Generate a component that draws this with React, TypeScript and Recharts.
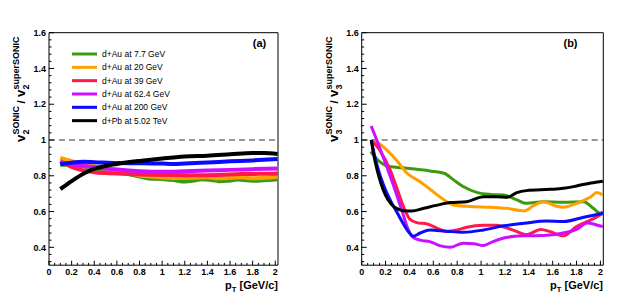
import React from "react";
import { LineChart, Line, XAxis, YAxis, ReferenceLine, ReferenceArea } from "recharts";

type P = { x: number; y: number };
const pts = (a: number[][]): P[] => a.map(([x, y]) => ({ x, y }));

// ---------- series names / colours ----------
const SERIES_NAMES = [
  "d+Au at 7.7 GeV",
  "d+Au at 20 GeV",
  "d+Au at 39 GeV",
  "d+Au at 62.4 GeV",
  "d+Au at 200 GeV",
  "d+Pb at 5.02 TeV",
];
const SERIES_COLORS = ["#3b9a10", "#ffa000", "#ff1a4a", "#cc10ff", "#0a0aff", "#000000"];

// ---------- panel (a): v2 ratio ----------
const v2_7p7 = pts([[0.1,0.862],[0.2,0.862],[0.3,0.852],[0.4,0.842],[0.5,0.832],[0.6,0.822],[0.7,0.81],[0.8,0.796],[0.9,0.784],[1.0,0.782],[1.1,0.776],[1.2,0.768],[1.27,0.772],[1.35,0.781],[1.42,0.778],[1.5,0.77],[1.58,0.772],[1.67,0.779],[1.75,0.775],[1.82,0.772],[1.9,0.775],[2.02,0.78]]);
const v2_20 = pts([[0.1,0.9],[0.2,0.882],[0.3,0.866],[0.4,0.852],[0.5,0.84],[0.6,0.828],[0.7,0.814],[0.8,0.802],[0.9,0.796],[1.0,0.791],[1.1,0.788],[1.2,0.787],[1.3,0.79],[1.4,0.792],[1.5,0.786],[1.6,0.789],[1.7,0.792],[1.8,0.786],[1.9,0.789],[2.02,0.795]]);
const v2_39 = pts([[0.1,0.882],[0.2,0.85],[0.3,0.83],[0.4,0.82],[0.5,0.815],[0.7,0.81],[0.9,0.806],[1.1,0.804],[1.3,0.803],[1.5,0.805],[1.7,0.81],[1.9,0.811],[2.02,0.813]]);
const v2_62 = pts([[0.1,0.875],[0.2,0.865],[0.4,0.848],[0.6,0.835],[0.8,0.826],[1.0,0.822],[1.2,0.825],[1.4,0.829],[1.6,0.833],[1.8,0.837],[2.02,0.841]]);
const v2_200 = pts([[0.1,0.864],[0.2,0.873],[0.3,0.878],[0.4,0.876],[0.6,0.871],[0.8,0.87],[1.0,0.868],[1.1,0.866],[1.2,0.869],[1.4,0.874],[1.6,0.881],[1.8,0.886],[2.02,0.894]]);
const v2_5020 = pts([[0.1,0.726],[0.15,0.748],[0.2,0.77],[0.3,0.81],[0.4,0.838],[0.5,0.855],[0.6,0.866],[0.8,0.883],[1.0,0.897],[1.2,0.908],[1.4,0.912],[1.6,0.92],[1.8,0.928],[1.9,0.928],[2.02,0.922]]);

// ---------- panel (b): v3 ratio ----------
const v3_7p7 = pts([[0.075,0.935],[0.15,0.879],[0.24,0.85],[0.35,0.845],[0.46,0.836],[0.57,0.827],[0.69,0.814],[0.77,0.777],[0.85,0.74],[0.97,0.706],[1.08,0.696],[1.19,0.693],[1.3,0.665],[1.38,0.646],[1.52,0.655],[1.69,0.652],[1.86,0.655],[1.94,0.618],[2.0,0.59],[2.02,0.6]]);
const v3_20 = pts([[0.08,0.99],[0.13,0.985],[0.21,0.944],[0.29,0.888],[0.38,0.814],[0.49,0.767],[0.57,0.726],[0.69,0.665],[0.77,0.637],[0.91,0.628],[1.08,0.624],[1.22,0.618],[1.36,0.603],[1.44,0.633],[1.52,0.655],[1.64,0.628],[1.69,0.624],[1.8,0.646],[1.92,0.683],[1.97,0.706],[2.02,0.693]]);
const v3_39 = pts([[0.08,1.0],[0.15,0.944],[0.24,0.83],[0.29,0.74],[0.35,0.628],[0.4,0.56],[0.46,0.538],[0.55,0.53],[0.63,0.507],[0.71,0.488],[0.8,0.497],[0.88,0.512],[1.02,0.523],[1.13,0.523],[1.22,0.507],[1.3,0.488],[1.38,0.47],[1.5,0.5],[1.58,0.488],[1.69,0.464],[1.8,0.516],[1.92,0.553],[2.02,0.59]]);
const v3_62 = pts([[0.08,1.078],[0.126,1.0],[0.21,0.85],[0.29,0.7],[0.34,0.6],[0.38,0.516],[0.43,0.456],[0.49,0.44],[0.57,0.432],[0.66,0.408],[0.74,0.4],[0.85,0.423],[0.94,0.42],[1.02,0.41],[1.1,0.432],[1.22,0.456],[1.36,0.464],[1.52,0.466],[1.69,0.48],[1.8,0.5],[1.89,0.536],[1.97,0.525],[2.02,0.516]]);
const v3_200 = pts([[0.08,1.0],[0.12,0.88],[0.16,0.79],[0.2,0.72],[0.25,0.65],[0.3,0.59],[0.35,0.53],[0.4,0.48],[0.43,0.462],[0.49,0.48],[0.57,0.497],[0.71,0.49],[0.85,0.484],[1.02,0.497],[1.19,0.52],[1.36,0.534],[1.55,0.547],[1.69,0.544],[1.86,0.568],[2.02,0.59]]);
const v3_5020 = pts([[0.08,1.0],[0.1,0.92],[0.13,0.83],[0.16,0.76],[0.2,0.69],[0.25,0.64],[0.3,0.615],[0.35,0.605],[0.42,0.603],[0.52,0.618],[0.66,0.64],[0.74,0.65],[0.88,0.655],[1.02,0.683],[1.13,0.683],[1.22,0.68],[1.3,0.706],[1.38,0.717],[1.58,0.724],[1.69,0.73],[1.8,0.743],[1.92,0.76],[2.02,0.77]]);

const V2_SERIES = [v2_7p7, v2_20, v2_39, v2_62, v2_200, v2_5020];
const V3_SERIES = [v3_7p7, v3_20, v3_39, v3_62, v3_200, v3_5020];

// ---------- axes ----------
const X_DOMAIN: [number, number] = [0, 2.024];
const Y_DOMAIN: [number, number] = [0.3, 1.6];
const X_MAJOR = [0, 0.2, 0.4, 0.6, 0.8, 1, 1.2, 1.4, 1.6, 1.8, 2];
const X_LABELS = ["0", "0.2", "0.4", "0.6", "0.8", "1", "1.2", "1.4", "1.6", "1.8", "2"];
const Y_MAJOR = [0.4, 0.6, 0.8, 1, 1.2, 1.4, 1.6];
const Y_LABELS = ["0.4", "0.6", "0.8", "1", "1.2", "1.4", "1.6"];
const X_TICKS = Array.from({ length: 41 }, (_, i) => Math.round(i * 5) / 100);
const Y_TICKS = Array.from({ length: 33 }, (_, i) => Math.round(32 + i * 4) / 100);

const FONT = "'Liberation Sans', Arial, Helvetica, sans-serif";

const majorIndex = (v: number, majors: number[]) => majors.findIndex((m) => Math.abs(m - v) < 1e-6);

const XTick = (props: any) => {
  const { x, y, payload } = props;
  const i = majorIndex(payload.value, X_MAJOR);
  const major = i >= 0;
  return (
    <g>
      <line x1={x} y1={y} x2={x} y2={y - (major ? 4.5 : 2.3)} stroke="#000" strokeWidth={1} />
      {major && (
        <text x={x} y={y + 10} textAnchor="middle" fontFamily={FONT} fontWeight="bold" fontSize={9} fill="#000">
          {X_LABELS[i]}
        </text>
      )}
    </g>
  );
};

const YTick = (props: any) => {
  const { x, y, payload } = props;
  const i = majorIndex(payload.value, Y_MAJOR);
  const major = i >= 0;
  return (
    <g>
      <line x1={x} y1={y} x2={x + (major ? 5 : 2.5)} y2={y} stroke="#000" strokeWidth={1} />
      {major && (
        <text x={x - 3} y={y + 3.2} textAnchor="end" fontFamily={FONT} fontWeight="bold" fontSize={9} fill="#000">
          {Y_LABELS[i]}
        </text>
      )}
    </g>
  );
};

const Panel = ({ series, width, marginLeft, marginRight, lineWidth }: any) => (
  <LineChart
    width={width}
    height={298}
    margin={{ top: 32.7, right: marginRight, bottom: 12.8, left: marginLeft }}
  >
    <XAxis
      type="number"
      dataKey="x"
      domain={X_DOMAIN}
      allowDataOverflow
      ticks={X_TICKS}
      interval={0}
      tickSize={0}
      tickMargin={0}
      axisLine={false}
      tickLine={false}
      tick={XTick}
      height={20}
    />
    <YAxis
      type="number"
      domain={Y_DOMAIN}
      allowDataOverflow
      ticks={Y_TICKS}
      interval={0}
      tickSize={0}
      tickMargin={0}
      axisLine={false}
      tickLine={false}
      tick={YTick}
      width={30}
    />
    <ReferenceLine y={1} stroke="#333" strokeWidth={1} strokeDasharray="6 4" />
    {series.map((d: P[], i: number) => (
      <Line
        key={i}
        data={d}
        dataKey="y"
        type="monotone"
        stroke={SERIES_COLORS[i]}
        strokeWidth={lineWidth}
        dot={false}
        activeDot={false}
        isAnimationActive={false}
      />
    ))}
    <ReferenceArea x1={X_DOMAIN[0]} x2={X_DOMAIN[1]} y1={Y_DOMAIN[0]} y2={Y_DOMAIN[1]} fill="none" stroke="#000" strokeWidth={1} fillOpacity={0} />
  </LineChart>
);

const YTitle = ({ x, n }: { x: number; n: string }) => (
  <g transform={`translate(${x},142) rotate(-90)`} fontFamily={FONT} fontWeight="bold" fill="#000">
    <text x={0} y={0} fontSize={13}>v</text>
    <text x={7.6} y={4} fontSize={9}>{n}</text>
    <text x={7.6} y={-6} fontSize={9}>SONIC</text>
    <text x={38.5} y={0} fontSize={11}>/</text>
    <text x={45} y={0} fontSize={13}>v</text>
    <text x={52.6} y={4} fontSize={9}>{n}</text>
    <text x={52.6} y={-6} fontSize={9}>superSONIC</text>
  </g>
);

const XTitle = ({ xEnd }: { xEnd: number }) => (
  <text x={xEnd} y={289} textAnchor="end" fontFamily={FONT} fontWeight="bold" fontSize={11} fill="#000">
    p<tspan fontSize={7.5} dy={3}>T</tspan>
    <tspan dy={-3}> [GeV/c]</tspan>
  </text>
);

const LEGEND_Y0 = 54;
const LEGEND_DY = 13.33;

export default function App() {
  return (
    <div style={{ position: "fixed", left: 0, top: 0, width: 630, height: 298, background: "#fff" }}>
      <div style={{ position: "absolute", left: 0, top: 0 }}>
        <Panel series={V2_SERIES} width={315} marginLeft={19} marginRight={37} lineWidth={4} />
      </div>
      <div style={{ position: "absolute", left: 312, top: 0 }}>
        <Panel series={V3_SERIES} width={318} marginLeft={19.7} marginRight={26.7} lineWidth={3} />
      </div>
      <svg width={630} height={298} style={{ position: "absolute", left: 0, top: 0, pointerEvents: "none" }}>
        <YTitle x={25} n="2" />
        <YTitle x={337.7} n="3" />
        <XTitle xEnd={278} />
        <XTitle xEnd={603} />
        <text x={259.5} y={47} textAnchor="middle" fontFamily={FONT} fontWeight="bold" fontSize={11} fill="#000">(a)</text>
        <text x={570.5} y={47} textAnchor="middle" fontFamily={FONT} fontWeight="bold" fontSize={11} fill="#000">(b)</text>
        {SERIES_NAMES.map((name, i) => (
          <g key={name}>
            <line x1={72} x2={97} y1={LEGEND_Y0 + i * LEGEND_DY} y2={LEGEND_Y0 + i * LEGEND_DY} stroke={SERIES_COLORS[i]} strokeWidth={3} />
            <text x={102} y={LEGEND_Y0 + i * LEGEND_DY + 3} fontFamily={FONT} fontSize={8.5} fill="#000">{name}</text>
          </g>
        ))}
      </svg>
    </div>
  );
}
